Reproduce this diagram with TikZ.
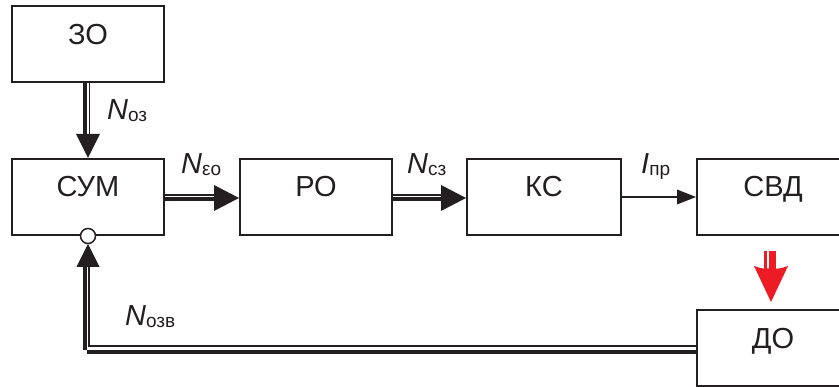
\documentclass[tikz,border=0pt]{standalone}
\usepackage{fontspec}
\setmainfont{Liberation Sans}
\definecolor{ink}{HTML}{231F20}
\definecolor{redarr}{HTML}{ED1C24}
\begin{document}
\begin{tikzpicture}[x=1pt,y=1pt,
  blk/.style={draw=ink, line width=2pt, minimum width=152pt, minimum height=76pt, inner sep=0pt,
    text height=20pt, text depth=20pt, font=\fontsize{29}{29}\selectfont, text=ink},
  thickln/.style={draw=ink, line width=4pt},
  thinln/.style={draw=ink, line width=1.6pt},
  headfill/.style={fill=ink},
  lbl/.style={anchor=base west, inner sep=0pt, text=ink}
]
\useasboundingbox (0,0) rectangle (839,387);
\newcommand{\Nlab}[2]{{\fontsize{29}{29}\selectfont\itshape #1}\raisebox{-2pt}{\fontsize{19}{19}\selectfont #2}}

% blocks
\node[blk] (zo)  at (88,342.5) {ЗО};
\node[blk] (sum) at (88,190) {СУМ};
\node[blk] (ro)  at (316,190) {РО};
\node[blk, minimum width=154pt] (ks) at (544,190) {КС};
\node[blk] (svd) at (773,190) {СВД};
\node[blk] (do)  at (773,38.5) {ДО};

% ZO -> SUM
\draw[thickln] ([xshift=-3pt]zo.south) -- ([xshift=-3pt,yshift=24pt]sum.north);
\draw[thinln]  ([xshift=1.5pt]zo.south) -- ([xshift=1.5pt,yshift=24pt]sum.north);
\fill[headfill] (sum.north) -- ++(-12,24) -- ++(24,0) -- cycle;

% SUM -> RO
\draw[thinln]  ([yshift=2pt]sum.east) -- ([xshift=-24pt,yshift=2pt]ro.west);
\draw[thickln] ([yshift=-2.5pt]sum.east) -- ([xshift=-24pt,yshift=-2.5pt]ro.west);
\fill[headfill] ([yshift=-1pt]ro.west) -- ++(-25,13) -- ++(0,-26) -- cycle;

% RO -> KS
\draw[thinln]  ([yshift=2pt]ro.east) -- ([xshift=-24pt,yshift=2pt]ks.west);
\draw[thickln] ([yshift=-2.5pt]ro.east) -- ([xshift=-24pt,yshift=-2.5pt]ks.west);
\fill[headfill] ([yshift=-1pt]ks.west) -- ++(-25,13) -- ++(0,-26) -- cycle;

% KS -> SVD
\draw[draw=ink, line width=1.5pt] ([yshift=0pt]ks.east) -- ([xshift=-18pt]svd.west);
\fill[headfill] (svd.west) -- ++(-19,7.5) -- ++(0,-15) -- cycle;

% SVD => DO (red)
\coordinate (rtop) at ([yshift=-15pt]svd.south);
\coordinate (rtip) at ([yshift=7.5pt]do.north);
\draw[redarr, line width=3pt] ([xshift=-7.5pt]rtop) -- ([xshift=-7.5pt,yshift=30pt]rtip);
\draw[redarr, line width=7pt] ([xshift=-0.5pt]rtop) -- ([xshift=-0.5pt,yshift=30pt]rtip);
\fill[redarr] ([xshift=-2pt]rtip) -- ([xshift=-19pt,yshift=36pt]rtip) .. controls ([xshift=-10pt,yshift=33pt]rtip) .. ([xshift=-2pt,yshift=34pt]rtip)
  .. controls ([xshift=6pt,yshift=33pt]rtip) .. ([xshift=15pt,yshift=36pt]rtip) -- cycle;

% feedback DO -> SUM
\coordinate (fbc) at (sum.south |- do.west);
\draw[thinln]  ([yshift=2.5pt]do.west) -- ([xshift=1pt,yshift=2.5pt]fbc) -- ([xshift=1pt,yshift=-23pt]sum.south);
\draw[thickln] ([yshift=-4pt]do.west) -- ([xshift=-1pt,yshift=-4pt]fbc);
\draw[thickln] ([xshift=-3pt,yshift=-2pt]fbc) -- ([xshift=-3pt,yshift=-23pt]sum.south);
\fill[headfill] ([yshift=-8pt]sum.south) -- ++(-11.5,-23) -- ++(23,0) -- cycle;
\node[circle, draw=ink, fill=white, line width=1.5pt, minimum size=15pt, inner sep=0pt] (sumin) at ([yshift=0pt]sum.south) {};

% labels
\node[lbl] (lnoz)  at (107,267) {\Nlab{N}{оз}};
\node[lbl] (lneo)  at (181,213) {\Nlab{N}{εо}};
\node[lbl] (lncz)  at (407,213) {\Nlab{N}{сз}};
\node[lbl] (lipr)  at (641,213) {\Nlab{I}{пр}};
\node[lbl] (lnozv) at (125,61)  {\Nlab{N}{озв}};
\end{tikzpicture}
\end{document}
